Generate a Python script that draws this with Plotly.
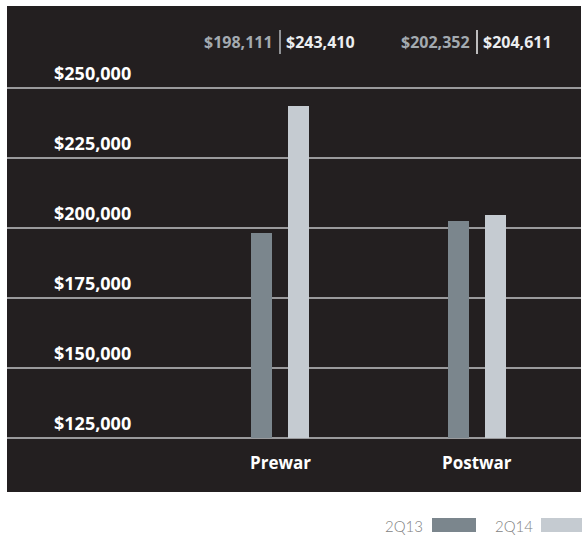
import plotly.graph_objects as go

categories = ["Prewar", "Postwar"]
series_names = ["2Q13", "2Q14"]
values_2q13 = [198111, 202352]
values_2q14 = [243410, 204611]
tick_values = [125000, 150000, 175000, 200000, 225000, 250000]
tick_labels = ["$125,000", "$150,000", "$175,000", "$200,000", "$225,000", "$250,000"]

BG = "#231f20"
C13 = "#7b868d"
C14 = "#c5cbd1"
FONT = "Open Sans"
BASE = 125000

W, H = 582, 535
L, R, T, B = 7, 1, 6, 43
plot_w = W - L - R
plot_h = H - T - B
bar_w = 0.107
gap_off = 0.094


def py(p):
    return 1 - (p - T) / plot_h


def px(p):
    return (p - L) / plot_w


fig = go.Figure()
xs = [0, 1]
fig.add_trace(go.Bar(x=xs, y=[v - BASE for v in values_2q13], base=BASE, name=series_names[0],
                     marker=dict(color=C13, line=dict(width=0)), width=bar_w,
                     offset=-gap_off - bar_w / 2, hoverinfo="skip"))
fig.add_trace(go.Bar(x=xs, y=[v - BASE for v in values_2q14], base=BASE, name=series_names[1],
                     marker=dict(color=C14, line=dict(width=0)), width=bar_w,
                     offset=gap_off - bar_w / 2, hoverinfo="skip"))

ann = []
# y tick labels above gridlines
for v, t in zip(tick_values, tick_labels):
    ann.append(dict(x=px(52), xref="paper", y=v, yref="y", text=t, showarrow=False,
                    xanchor="left", yanchor="bottom", yshift=1,
                    font=dict(family=FONT, size=18, color="white", weight=700)))
# category labels
for i, c in enumerate(categories):
    ann.append(dict(x=i, xref="x", y=py(462), yref="paper", text=c, showarrow=False,
                    xanchor="center", yanchor="middle",
                    font=dict(family=FONT, size=17, color="white", weight=700)))
# data labels at top
for i in range(len(categories)):
    ann.append(dict(x=i, xref="x", y=py(42), yref="paper",
                    text=f"${values_2q13[i]:,}", showarrow=False, xanchor="right", yanchor="middle",
                    xshift=-5, font=dict(family=FONT, size=16, color="#a3aab0", weight=700)))
    ann.append(dict(x=i, xref="x", y=py(42), yref="paper",
                    text=f"${values_2q14[i]:,}", showarrow=False, xanchor="left", yanchor="middle",
                    xshift=4, font=dict(family=FONT, size=16, color="#eceef0", weight=700)))
# legend texts
for name, xr in zip(series_names, [425, 535]):
    ann.append(dict(x=px(xr), xref="paper", y=py(526), yref="paper",
                    text=name, showarrow=False, xanchor="right", yanchor="middle",
                    font=dict(family="Lato", size=15, color="#7f7f7f", weight=300)))

shapes = []
# separators
for i, col in zip(range(len(categories)), ["#b5b9bc", "#f2f2f2"]):
    shapes.append(dict(type="line", xref="x", yref="paper", x0=i, x1=i, y0=py(54), y1=py(30),
                       line=dict(color=col, width=1.5)))
# legend swatches
shapes.append(dict(type="rect", xref="paper", yref="paper", x0=px(432), x1=px(476),
                   y0=py(532), y1=py(518), fillcolor=C13, line=dict(width=0)))
shapes.append(dict(type="rect", xref="paper", yref="paper", x0=px(541), x1=px(590),
                   y0=py(532), y1=py(518), fillcolor=C14, line=dict(width=0)))

unit = 197.0
x0r = -(280 - L) / unit
x1r = 1 + (W - R - 477) / unit
ppv = 70 / 25000
y_bot = BASE - (H - B - 438) / ppv
y_top = BASE + (438 - T) / ppv

fig.update_layout(
    width=W, height=H, margin=dict(l=L, r=R, t=T, b=B),
    paper_bgcolor="white", plot_bgcolor=BG, showlegend=False,
    xaxis=dict(range=[x0r, x1r], showgrid=False, zeroline=False, showticklabels=False, fixedrange=True),
    yaxis=dict(range=[y_bot, y_top], tickvals=tick_values, showgrid=True, gridcolor="#9a9a9c",
               gridwidth=1.5, zeroline=False, showticklabels=False, fixedrange=True),
    annotations=ann, shapes=shapes, bargap=0,
)
fig.write_html("out.html", config={"displayModeBar": False},
               post_script="document.body.style.margin='0';document.body.style.overflow='hidden';")
